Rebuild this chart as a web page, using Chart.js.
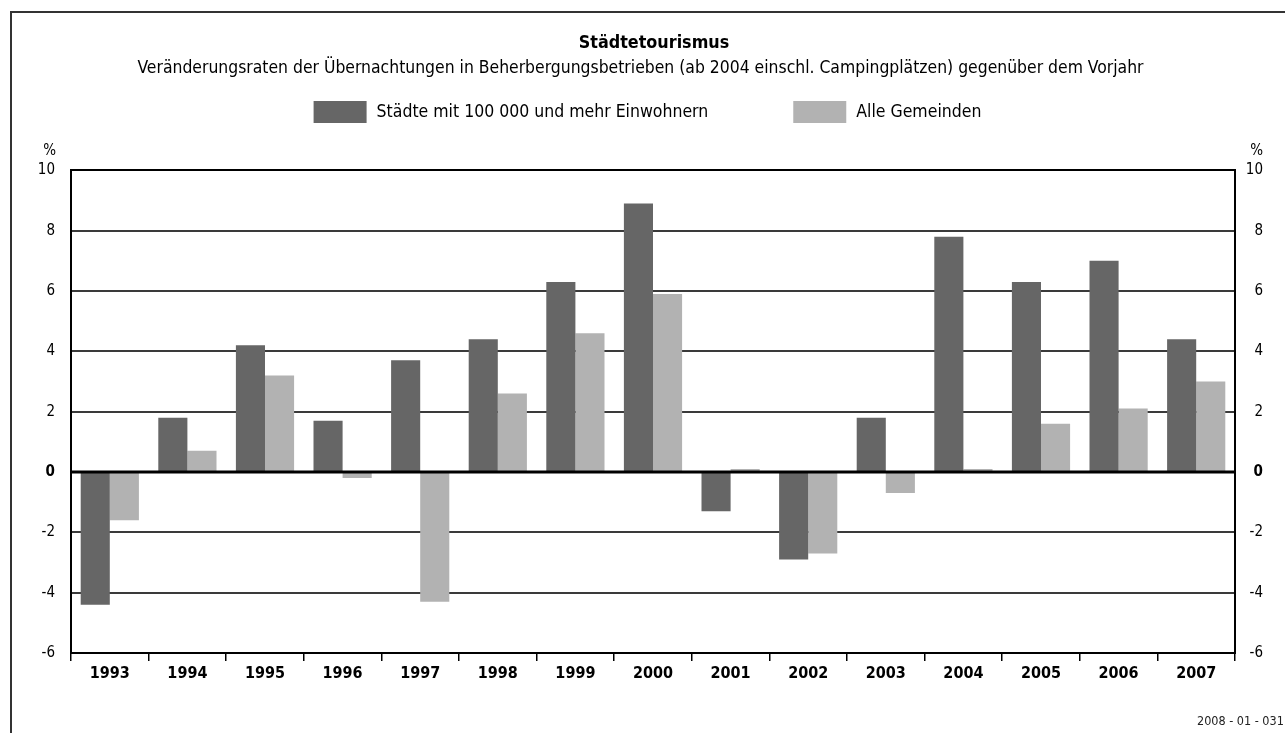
<!DOCTYPE html>
<html lang="de">
<head>
<meta charset="utf-8">
<title>Städtetourismus</title>
<script src="https://cdn.jsdelivr.net/npm/chart.js@4.4.1/dist/chart.umd.min.js"></script>
<style>
  html, body { margin: 0; padding: 0; background: #fff; }
  #wrap { width: 1285px; height: 733px; position: relative; }
</style>
</head>
<body>
<div id="wrap"><canvas id="chart"></canvas></div>
<script>
// Veränderungsraten gegenüber dem Vorjahr in %
const years = ['1993', '1994', '1995', '1996', '1997', '1998', '1999', '2000',
  '2001', '2002', '2003', '2004', '2005', '2006', '2007']
const grossstaedte = [-4.4, 1.8, 4.2, 1.7, 3.7, 4.4, 6.3, 8.9, -1.3, -2.9, 1.8, 7.8, 6.3, 7.0, 4.4]
const alleGemeinden = [-1.6, 0.7, 3.2, -0.2, -4.3, 2.6, 4.6, 5.9, 0.1, -2.7, -0.7, 0.1, 1.6, 2.1, 3.0]
const yMin = -6
const yMax = 10
const yStep = 2

const FONT = '"DejaVu Sans Condensed", "DejaVu Sans", sans-serif'
const DARK = '#666666'
const LIGHT = '#b2b2b2'

// zero line on top of the bars
const zeroLine = {
  id: 'zeroLine',
  afterDatasetsDraw (chart) {
    const { ctx, chartArea, scales } = chart
    const y0 = scales.y.getPixelForValue(0)
    ctx.save()
    ctx.strokeStyle = '#000'
    ctx.lineWidth = 3
    ctx.beginPath()
    ctx.moveTo(chartArea.left, y0)
    ctx.lineTo(chartArea.right, y0)
    ctx.stroke()
    ctx.restore()
  }
}

// frame, title, legend, unit labels and the code number
const extras = {
  id: 'extras',
  afterDraw (chart) {
    const { ctx, chartArea, scales } = chart
    ctx.save()

    ctx.strokeStyle = '#333'
    ctx.lineWidth = 2
    ctx.strokeRect(11, 12, chart.width + 10, chart.height + 10)

    // title (sits a little right of centre in the original)
    ctx.fillStyle = '#000'
    ctx.font = 'bold 17.8px ' + FONT
    ctx.textAlign = 'center'
    ctx.textBaseline = 'middle'
    ctx.fillText('Städtetourismus', 654, 43)

    // legend
    const items = chart.data.datasets.map(ds => ({ text: ds.label, color: ds.backgroundColor }))
    ctx.font = '17.5px ' + FONT
    const boxW = 53
    const boxH = 22
    const gap = 10
    const itemGap = 85
    const widths = items.map(it => boxW + gap + ctx.measureText(it.text).width)
    const total = widths.reduce((a, b) => a + b, 0) + itemGap * (items.length - 1)
    let x = (chart.width - total) / 2 + 5
    const yc = 112
    items.forEach((it, i) => {
      ctx.fillStyle = it.color
      ctx.fillRect(x, yc - boxH / 2, boxW, boxH)
      ctx.fillStyle = '#000'
      ctx.textAlign = 'left'
      ctx.fillText(it.text, x + boxW + gap, yc)
      x += widths[i] + itemGap
    })

    // unit labels
    ctx.font = '15px ' + FONT
    ctx.textAlign = 'right'
    ctx.fillText('%', chartArea.left - 15, chartArea.top - 19)
    ctx.fillText('%', scales.y2.right, chartArea.top - 19)

    // code number
    ctx.font = '12.5px ' + FONT
    ctx.textAlign = 'left'
    ctx.fillStyle = '#222'
    ctx.fillText('2008 - 01 - 0311', 1197, 722)

    ctx.restore()
  }
}

new Chart(document.getElementById('chart'), {
  type: 'bar',
  data: {
    labels: years,
    datasets: [
      {
        label: 'Städte mit 100 000 und mehr Einwohnern',
        data: grossstaedte,
        backgroundColor: DARK
      },
      {
        label: 'Alle Gemeinden',
        data: alleGemeinden,
        backgroundColor: LIGHT
      }
    ]
  },
  options: {
    responsive: true,
    maintainAspectRatio: false,
    animation: false,
    datasets: {
      bar: { categoryPercentage: 0.75, barPercentage: 1 }
    },
    layout: { padding: { top: 58.4, left: 18, right: 22, bottom: 0 } },
    plugins: {
      legend: { display: false },
      tooltip: { enabled: false },
      title: { display: false },
      subtitle: {
        display: true,
        text: 'Veränderungsraten der Übernachtungen in Beherbergungsbetrieben (ab 2004 einschl. Campingplätzen) gegenüber dem Vorjahr',
        color: '#000',
        font: { family: FONT, size: 17.4 },
        padding: { top: 0, bottom: 91 }
      }
    },
    scales: {
      x: {
        grid: {
          display: true,
          drawOnChartArea: false,
          drawTicks: true,
          tickLength: 8,
          offset: true,
          color: '#000',
          lineWidth: 1.5
        },
        border: { display: true, color: '#000', width: 2 },
        ticks: {
          color: '#000',
          font: { family: FONT, size: 16, weight: 'bold' },
          padding: 3,
          maxRotation: 0,
          autoSkip: false
        },
        afterFit (scale) { scale.height = 80 }
      },
      y: {
        min: yMin,
        max: yMax,
        ticks: {
          stepSize: yStep,
          color: '#000',
          padding: 16,
          font: ctx => ({ family: FONT, size: 15, weight: ctx.tick && ctx.tick.value === 0 ? 'bold' : 'normal' })
        },
        grid: {
          drawTicks: false,
          color: ctx => (ctx.tick.value === yMax || ctx.tick.value === yMin) ? '#000' : '#3a3a3a',
          lineWidth: 2
        },
        border: { display: true, color: '#000', width: 2 },
        afterFit (scale) { scale.width = 53 }
      },
      y2: {
        position: 'right',
        min: yMin,
        max: yMax,
        ticks: {
          stepSize: yStep,
          color: '#000',
          crossAlign: 'far',
          font: ctx => ({ family: FONT, size: 15, weight: ctx.tick && ctx.tick.value === 0 ? 'bold' : 'normal' })
        },
        grid: { display: false },
        border: { display: true, color: '#000', width: 2 },
        afterFit (scale) { scale.width = 28 }
      }
    }
  },
  plugins: [zeroLine, extras]
})
</script>
</body>
</html>
